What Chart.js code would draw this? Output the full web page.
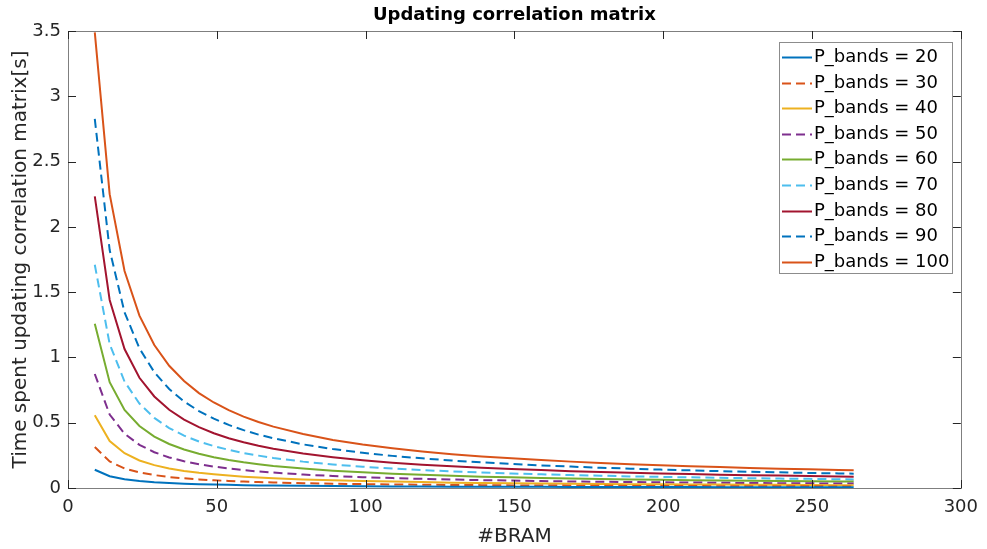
<!DOCTYPE html>
<html>
<head>
<meta charset="utf-8">
<title>Updating correlation matrix</title>
<script src="https://cdn.jsdelivr.net/npm/chart.js@4.4.1/dist/chart.umd.min.js"></script>
<style>
  html, body { margin: 0; padding: 0; background: #fff; }
  #wrap { width: 987px; height: 549px; }
</style>
</head>
<body>
<div id="wrap"><canvas id="myChart" width="987" height="549"></canvas></div>
<script>
// #BRAM values (x axis)
const bram = [9, 14, 19, 24, 29, 34, 39, 44, 49, 54, 59, 64, 69, 79, 89, 99, 109, 119, 129, 139,
              149, 159, 169, 179, 189, 199, 209, 219, 229, 239, 249, 259, 264];

const bandLabels = ["P_bands = 20", "P_bands = 30", "P_bands = 40", "P_bands = 50", "P_bands = 60",
                    "P_bands = 70", "P_bands = 80", "P_bands = 90", "P_bands = 100"];

// time spent [s]
const p20 = [0.140, 0.090, 0.067, 0.053, 0.044, 0.038, 0.033, 0.029, 0.026, 0.024, 0.022, 0.020, 0.019, 0.017, 0.015, 0.013, 0.012,
             0.011, 0.010, 0.010, 0.009, 0.009, 0.008, 0.008, 0.007, 0.007, 0.007, 0.006, 0.006, 0.006, 0.006, 0.006, 0.005];
const p30 = [0.314, 0.203, 0.150, 0.119, 0.099, 0.084, 0.074, 0.066, 0.059, 0.054, 0.049, 0.046, 0.042, 0.037, 0.033, 0.030, 0.027,
             0.025, 0.023, 0.022, 0.020, 0.019, 0.018, 0.017, 0.016, 0.016, 0.015, 0.014, 0.014, 0.013, 0.013, 0.012, 0.012];
const p40 = [0.558, 0.360, 0.266, 0.211, 0.175, 0.150, 0.131, 0.116, 0.105, 0.095, 0.087, 0.081, 0.075, 0.066, 0.059, 0.053, 0.049,
             0.045, 0.041, 0.039, 0.036, 0.034, 0.032, 0.031, 0.029, 0.028, 0.027, 0.026, 0.025, 0.024, 0.023, 0.022, 0.022];
const p50 = [0.873, 0.562, 0.416, 0.330, 0.274, 0.234, 0.205, 0.182, 0.164, 0.149, 0.137, 0.126, 0.118, 0.103, 0.092, 0.083, 0.076,
             0.070, 0.065, 0.060, 0.057, 0.053, 0.050, 0.048, 0.046, 0.044, 0.042, 0.040, 0.038, 0.037, 0.036, 0.034, 0.034];
const p60 = [1.257, 0.810, 0.598, 0.475, 0.394, 0.337, 0.295, 0.262, 0.236, 0.215, 0.197, 0.182, 0.169, 0.149, 0.133, 0.120, 0.109,
             0.101, 0.093, 0.087, 0.082, 0.077, 0.073, 0.069, 0.066, 0.063, 0.060, 0.058, 0.055, 0.053, 0.051, 0.050, 0.049];
const p70 = [1.710, 1.102, 0.815, 0.647, 0.537, 0.459, 0.401, 0.356, 0.321, 0.292, 0.268, 0.248, 0.230, 0.202, 0.180, 0.163, 0.149,
             0.137, 0.127, 0.119, 0.111, 0.105, 0.099, 0.094, 0.089, 0.085, 0.082, 0.078, 0.075, 0.072, 0.070, 0.067, 0.066];
const p80 = [2.234, 1.440, 1.064, 0.844, 0.701, 0.599, 0.524, 0.466, 0.419, 0.381, 0.350, 0.323, 0.301, 0.264, 0.236, 0.213, 0.194,
             0.179, 0.166, 0.155, 0.145, 0.137, 0.129, 0.123, 0.117, 0.111, 0.107, 0.102, 0.098, 0.095, 0.091, 0.088, 0.087];
const p90 = [2.827, 1.822, 1.346, 1.069, 0.887, 0.758, 0.663, 0.589, 0.531, 0.483, 0.443, 0.409, 0.381, 0.334, 0.298, 0.270, 0.246,
             0.227, 0.210, 0.196, 0.184, 0.173, 0.164, 0.155, 0.148, 0.141, 0.135, 0.129, 0.124, 0.120, 0.115, 0.112, 0.110];
const p100 = [3.490, 2.250, 1.662, 1.320, 1.095, 0.936, 0.819, 0.727, 0.655, 0.596, 0.547, 0.505, 0.470, 0.413, 0.368, 0.333, 0.304,
              0.280, 0.259, 0.242, 0.227, 0.214, 0.202, 0.192, 0.182, 0.174, 0.167, 0.160, 0.154, 0.148, 0.143, 0.138, 0.135];

const allSeries = [p20, p30, p40, p50, p60, p70, p80, p90, p100];
const colors = ["#0072BD", "#D95319", "#EDB120", "#7E2F8E", "#77AC30", "#4DBEEE", "#A2142F", "#0072BD", "#D95319"];
const dashed = [false, true, false, true, false, true, false, true, false];

const xTicks = [0, 50, 100, 150, 200, 250, 300];
const yTicks = [0, 0.5, 1, 1.5, 2, 2.5, 3, 3.5];

const chartTitle = "Updating correlation matrix";
const FONT = "'DejaVu Sans', sans-serif";

const datasets = allSeries.map((ys, i) => ({
    label: bandLabels[i],
    data: ys.map((y, j) => ({ x: bram[j], y: y })),
    borderColor: colors[i],
    backgroundColor: colors[i],
    borderWidth: 2,
    borderDash: dashed[i] ? [9, 5] : [],
    pointRadius: 0,
    tension: 0,
    fill: false
}));

// MATLAB style box with inward ticks, title centred over the axes
const boxPlugin = {
    id: "box",
    afterDatasetsDraw(chart) {
        const ctx = chart.ctx;
        const a = chart.chartArea;
        const xs = chart.scales.x, ysc = chart.scales.y;
        ctx.save();
        ctx.strokeStyle = "#7f7f7f";
        ctx.lineWidth = 1;
        ctx.strokeRect(Math.round(a.left) + 0.5, Math.round(a.top) + 0.5,
                       Math.round(a.right - a.left), Math.round(a.bottom - a.top));
        ctx.strokeStyle = "#262626";
        ctx.beginPath();
        xTicks.forEach(t => {
            const px = Math.round(xs.getPixelForValue(t)) + 0.5;
            ctx.moveTo(px, a.bottom); ctx.lineTo(px, a.bottom - 8);
            ctx.moveTo(px, a.top); ctx.lineTo(px, a.top + 8);
        });
        yTicks.forEach(t => {
            const py = Math.round(ysc.getPixelForValue(t)) + 0.5;
            ctx.moveTo(a.left, py); ctx.lineTo(a.left + 8, py);
            ctx.moveTo(a.right, py); ctx.lineTo(a.right - 8, py);
        });
        ctx.stroke();

        ctx.fillStyle = "#000";
        ctx.font = "bold 18px " + FONT;
        ctx.textAlign = "center";
        ctx.textBaseline = "middle";
        ctx.fillText(chartTitle, (a.left + a.right) / 2, 15);
        ctx.restore();
    }
};

// legend box in the upper right corner
const legendPlugin = {
    id: "boxLegend",
    afterDraw(chart) {
        const ctx = chart.ctx;
        const bx = 779, by = 42, bw = 173, bh = 231;
        ctx.save();
        ctx.fillStyle = "#fff";
        ctx.fillRect(bx, by, bw, bh);
        ctx.strokeStyle = "#8c8c8c";
        ctx.lineWidth = 1;
        ctx.strokeRect(bx + 0.5, by + 0.5, bw, bh);
        ctx.font = "18px " + FONT;
        ctx.textBaseline = "middle";
        ctx.textAlign = "left";
        chart.data.datasets.forEach((ds, i) => {
            const y = Math.round(by + 15 + i * 25.6) + 0.5;
            ctx.strokeStyle = ds.borderColor;
            ctx.lineWidth = 2;
            ctx.setLineDash(ds.borderDash);
            ctx.beginPath();
            ctx.moveTo(782, y);
            ctx.lineTo(812, y);
            ctx.stroke();
            ctx.setLineDash([]);
            ctx.fillStyle = "#000";
            ctx.fillText(ds.label, 814, y);
        });
        ctx.restore();
    }
};

const ctx = document.getElementById("myChart").getContext("2d");
const myChart = new Chart(ctx, {
    type: "line",
    data: { datasets: datasets },
    options: {
        responsive: false,
        animation: false,
        devicePixelRatio: 1,
        layout: { padding: { left: 0, right: 25, top: 31, bottom: 0 } },
        plugins: {
            legend: { display: false },
            tooltip: { enabled: false },
            title: { display: false }
        },
        scales: {
            x: {
                type: "linear",
                min: 0,
                max: 300,
                afterFit: s => { s.height = 61; },
                afterBuildTicks: s => { s.ticks = xTicks.map(v => ({ value: v })); },
                grid: { display: false, drawTicks: false },
                border: { display: false },
                ticks: {
                    color: "#262626",
                    font: { family: FONT, size: 18 },
                    padding: 9,
                    maxRotation: 0,
                    callback: v => String(v)
                },
                title: {
                    display: true,
                    text: "#BRAM",
                    color: "#262626",
                    font: { family: FONT, size: 20 },
                    padding: { top: 0, bottom: 0 }
                }
            },
            y: {
                type: "linear",
                min: 0,
                max: 3.5,
                afterFit: s => { s.width = 68; },
                afterBuildTicks: s => { s.ticks = yTicks.map(v => ({ value: v })); },
                grid: { display: false, drawTicks: false },
                border: { display: false },
                ticks: {
                    color: "#262626",
                    font: { family: FONT, size: 18 },
                    padding: 7,
                    callback: v => String(v)
                },
                title: {
                    display: true,
                    text: "Time spent updating correlation matrix[s]",
                    color: "#262626",
                    font: { family: FONT, size: 20 },
                    padding: { top: 9, bottom: 0 }
                }
            }
        }
    },
    plugins: [boxPlugin, legendPlugin]
});
</script>
</body>
</html>
